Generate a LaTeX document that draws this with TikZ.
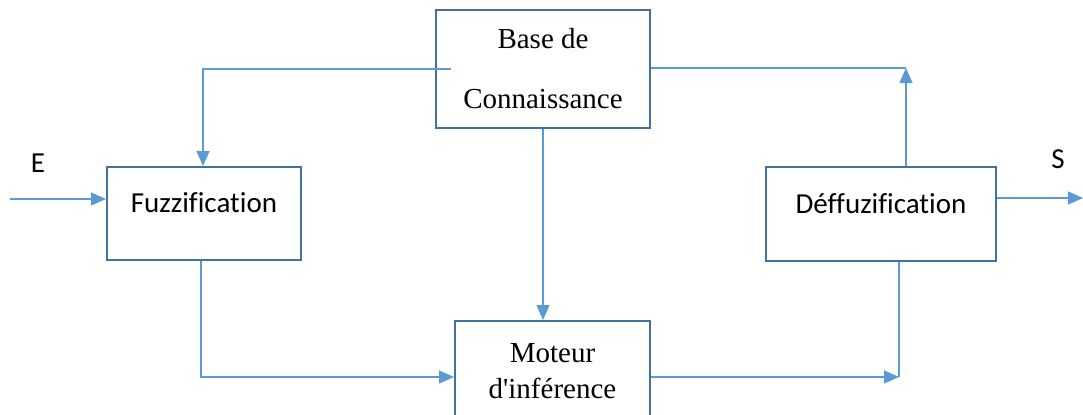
\documentclass[tikz,border=0pt]{standalone}
\usepackage{fontspec}
\setmainfont{Liberation Serif}
\newfontfamily\calib[Ligatures={NoCommon}]{Carlito}
\usepackage{tikz}
\usetikzlibrary{arrows.meta,calc,positioning}
\definecolor{boxblue}{HTML}{41719C}
\definecolor{lineblue}{HTML}{5B9BD5}

\begin{document}
\begin{tikzpicture}[x=0.5pt,y=-0.5pt,>={Triangle[length=7.5pt,width=6.5pt]},
  box/.style={draw=boxblue,line width=1pt,inner sep=0pt,align=center},
  link/.style={draw=lineblue,line width=0.7pt}]
\newcommand*{\fs}{\fontsize{14.5}{18}\selectfont};
\clip (0,0) rectangle (1083,414);
\node[box,minimum width=107pt,minimum height=59pt,font=\fontsize{14.5}{30}\selectfont] (base) at (543,69) {Base de\\Connaissance};
\node[box,minimum width=97pt,minimum height=46.5pt,font=\calib\fs,text height=8pt,text depth=9pt] (fuzz) at (204,213.5) {Fuzzification};
\node[box,minimum width=115pt,minimum height=47pt,font=\calib\fs,text height=8pt,text depth=9pt] (defuzz) at (881,214) {D\'effuzification};
\node[box,minimum width=97.5pt,minimum height=50pt,font=\fs] (moteur) at (552.5,371) {Moteur\\d\textquotesingle inf\'erence};
\node[font=\calib\fs] (e) at (38,163) {E};
\node[font=\calib\fs] (s) at (1058,159) {S};
\coordinate (ein) at (10,199);
\coordinate (sout) at (1083,198);
\coordinate (tl) at (203,69);
\coordinate (tr) at (906,68);
\coordinate (bl) at (201,377);
\coordinate (br) at (899,377);
\draw[link,->] (ein) -- (ein -| fuzz.west);
\draw[link,->] ([xshift=8pt]base.west |- tl) -- (tl) -- (tl |- fuzz.north);
\draw[link] (base.east |- tr) -- (tr);
\draw[link,->] (defuzz.north -| tr) -- (tr);
\draw[link,->] (base.south) -- (base.south |- moteur.north);
\draw[link,->] (fuzz.south -| bl) -- (bl) -- (bl -| moteur.west);
\draw[link,->] (moteur.east |- br) -- (br);
\draw[link] (defuzz.south -| br) -- (br);
\draw[link,->] (defuzz.east |- sout) -- (sout);
\end{tikzpicture}
\end{document}
